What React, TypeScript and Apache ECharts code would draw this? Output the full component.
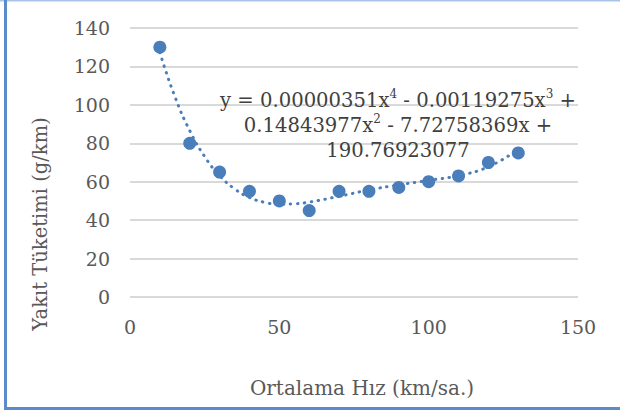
import React, { useEffect, useRef } from "react";
import * as echarts from "echarts";

const speeds = [10, 20, 30, 40, 50, 60, 70, 80, 90, 100, 110, 120, 130];
const consumption = [130, 80, 65, 55, 50, 45, 55, 55, 57, 60, 63, 70, 75];
const trendX = [10, 15, 20, 25, 30, 35, 40, 45, 50, 55, 60, 70, 80, 90, 100, 110, 120, 130];
const trendY = [127.2, 104.4, 86.6, 73.1, 63.2, 56.3, 51.8, 49.3, 48.3, 48.5, 49.4, 52.4, 55.7, 58.4, 60.7, 63.2, 67.8, 76.8];
const xTitle = "Ortalama Hız (km/sa.)";
const yTitle = "Yakıt Tüketimi (g/km)";

const FONT = "DejaVu Serif";
const BLUE = "#4a7ebb";

export default function App() {
  const ref = useRef<HTMLDivElement>(null);
  useEffect(() => {
    if (!ref.current) return;
    const chart = echarts.init(ref.current, null, { renderer: "svg" });
    chart.setOption({
      animation: false,
      backgroundColor: "#ffffff",
      grid: { left: 130, right: 42, top: 28, bottom: 113 },
      xAxis: {
        type: "value",
        min: 0,
        max: 150,
        interval: 50,
        axisLine: { show: false },
        axisTick: { show: false },
        splitLine: { show: false },
        axisLabel: { color: "#595959", fontFamily: FONT, fontSize: 19, margin: 20 },
      },
      yAxis: {
        type: "value",
        min: 0,
        max: 140,
        interval: 20,
        axisLine: { show: false },
        axisTick: { show: false },
        splitLine: { show: true, lineStyle: { color: "#d9d9d9", width: 2 } },
        axisLabel: { color: "#595959", fontFamily: FONT, fontSize: 19, margin: 20 },
      },
      series: [
        {
          type: "line",
          data: trendX.map((x, i) => [x, trendY[i]]),
          smooth: true,
          symbol: "none",
          lineStyle: { color: BLUE, width: 3, type: [0.5, 6.5], cap: "round" },
          z: 2,
        },
        {
          type: "scatter",
          data: speeds.map((x, i) => [x, consumption[i]]),
          symbol: "circle",
          symbolSize: 13,
          itemStyle: { color: BLUE, opacity: 1 },
          z: 3,
        },
      ],
      graphic: [
        {
          type: "text",
          x: 398,
          y: 88,
          style: {
            text:
              "{t|y = 0.00000351x}{s|4}{t| - 0.00119275x}{s|3}{t| +}\n{t|0.14843977x}{s|2}{t| - 7.72758369x +}\n{t|190.76923077}",
            align: "center",
            verticalAlign: "top",
            fill: "#404040",
            rich: {
              t: { fontFamily: FONT, fontSize: 19.6, lineHeight: 25, fill: "#404040" },
              s: { fontFamily: FONT, fontSize: 12, lineHeight: 22, fill: "#404040", verticalAlign: "top" },
            },
          },
          z: 10,
        },
        {
          type: "text",
          x: 362,
          y: 388,
          style: {
            text: xTitle,
            fontFamily: FONT,
            fontSize: 20,
            fill: "#595959",
            align: "center",
            verticalAlign: "middle",
          },
        },
        {
          type: "text",
          x: 40,
          y: 224,
          rotation: Math.PI / 2,
          style: {
            text: yTitle,
            fontFamily: FONT,
            fontSize: 19.5,
            fill: "#595959",
            align: "center",
            verticalAlign: "middle",
          },
        },
        { type: "rect", shape: { x: 0, y: 0, width: 620, height: 1.5 }, style: { fill: "#a9c4e8" } },
        { type: "rect", shape: { x: 4, y: 0, width: 3, height: 410 }, style: { fill: "#5b8bc9" } },
        { type: "rect", shape: { x: 4, y: 407, width: 616, height: 3 }, style: { fill: "#5b8bc9" } },
      ],
    });
    return () => chart.dispose();
  }, []);
  return (
    <div
      ref={ref}
      style={{ position: "fixed", left: 0, top: 0, width: 620, height: 410 }}
    />
  );
}
